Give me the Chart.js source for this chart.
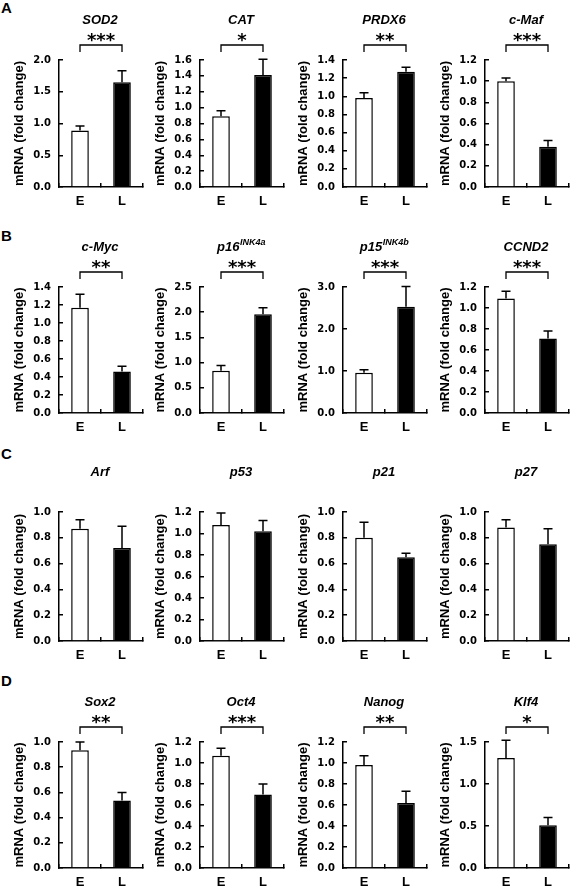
<!DOCTYPE html>
<html>
<head>
<meta charset="utf-8">
<script src="https://cdn.jsdelivr.net/npm/chart.js@4.4.1/dist/chart.umd.min.js"></script>
<style>
  body { margin: 0; background: #fff; }
  #figure { position: relative; width: 571px; height: 891px; overflow: hidden; background: #fff; }
  #figure canvas { position: absolute; }
  .letter { position: absolute; font: bold 15px "Liberation Sans", Arial, sans-serif; line-height: 15px; color: #000; }
</style>
</head>
<body>
<div id="figure"></div>
<script>
// gene panels, row by row (A, B, C, D)
const genes = ['SOD2', 'CAT', 'PRDX6', 'c-Maf',
               'c-Myc', 'p16', 'p15', 'CCND2',
               'Arf', 'p53', 'p21', 'p27',
               'Sox2', 'Oct4', 'Nanog', 'Klf4']
const geneSup = ['', '', '', '',
                 '', 'INK4a', 'INK4b', '',
                 '', '', '', '',
                 '', '', '', '']
const groups = ['E', 'L']

// mean fold change and upper error (SD) for early (E) and late (L)
const meanE = [0.89, 0.89, 0.98, 1.00,
               1.17, 0.84, 0.96, 1.09,
               0.87, 1.08, 0.80, 0.88,
               0.935, 1.07, 0.98, 1.31]
const errE  = [0.07, 0.07, 0.06, 0.03,
               0.15, 0.10, 0.07, 0.07,
               0.07, 0.11, 0.12, 0.06,
               0.065, 0.07, 0.09, 0.21]
const meanL = [1.65, 1.41, 1.27, 0.38,
               0.46, 1.96, 2.53, 0.71,
               0.72, 1.02, 0.65, 0.75,
               0.535, 0.70, 0.62, 0.51]
const errL  = [0.18, 0.20, 0.05, 0.06,
               0.06, 0.13, 0.48, 0.07,
               0.17, 0.10, 0.03, 0.12,
               0.065, 0.10, 0.11, 0.09]

// y axis ranges
const yMax  = [2.0, 1.6, 1.4, 1.2,
               1.4, 2.5, 3.0, 1.2,
               1.0, 1.2, 1.0, 1.0,
               1.0, 1.2, 1.2, 1.5]
const yStep = [0.5, 0.2, 0.2, 0.2,
               0.2, 0.5, 1.0, 0.2,
               0.2, 0.2, 0.2, 0.2,
               0.2, 0.2, 0.2, 0.5]

const stars = ['***', '*', '**', '***',
               '**', '***', '***', '***',
               '', '', '', '',
               '**', '***', '**', '*']
const rowLetters = ['A', 'B', 'C', 'D']

// layout of the grid
const axisLeft = [59, 200, 343, 485]
const plotTop = [60, 287, 512, 742]
const plotBottom = [187, 413, 641, 868]
const letterTop = [0, 228, 446, 673]
const axisWidth = 84

const sans = '"Liberation Sans", Arial, sans-serif'

const panelExtras = {
    id: 'panelExtras',
    afterDatasetsDraw(chart, args, opts) {
        const ctx = chart.ctx
        const yScale = chart.scales.y
        const area = chart.chartArea
        const bars = chart.getDatasetMeta(0).data
        ctx.save()
        ctx.strokeStyle = '#000'
        ctx.fillStyle = '#000'
        ctx.lineWidth = 1.5

        //Error bars, upper only.
        bars.forEach((bar, i) => {
            const top = yScale.getPixelForValue(opts.means[i] + opts.errs[i])
            ctx.beginPath()
            ctx.moveTo(bar.x, bar.y)
            ctx.lineTo(bar.x, top)
            ctx.moveTo(bar.x - 4.5, top)
            ctx.lineTo(bar.x + 4.5, top)
            ctx.stroke()
        })

        //Gene name, with optional superscript.
        const cx = (area.left + area.right) / 2 - 1
        const ty = area.top - 40
        ctx.textBaseline = 'middle'
        ctx.textAlign = 'left'
        ctx.font = 'italic bold 13px ' + sans
        const w1 = ctx.measureText(opts.name).width
        ctx.font = 'italic bold 9px ' + sans
        const w2 = opts.sup ? ctx.measureText(opts.sup).width : 0
        const x0 = cx - (w1 + w2) / 2
        ctx.font = 'italic bold 13px ' + sans
        ctx.fillText(opts.name, x0, ty)
        if (opts.sup) {
            ctx.font = 'italic bold 9px ' + sans
            ctx.fillText(opts.sup, x0 + w1 + 0.5, ty - 4)
        }

        //Significance bracket and stars.
        if (opts.stars) {
            const x1 = bars[0].x
            const x2 = bars[1].x
            const yb = area.top - 15
            ctx.lineWidth = 1.3
            ctx.beginPath()
            ctx.moveTo(x1, area.top - 8)
            ctx.lineTo(x1, yb)
            ctx.lineTo(x2, yb)
            ctx.lineTo(x2, area.top - 8)
            ctx.stroke()
            ctx.font = 'bold 18px "DejaVu Sans", sans-serif'
            ctx.textAlign = 'center'
            ctx.textBaseline = 'alphabetic'
            ctx.fillText(opts.stars, (x1 + x2) / 2, area.top - 14)
        }
        ctx.restore()
    }
}

const figure = document.getElementById('figure')

rowLetters.forEach((letter, r) => {
    const div = document.createElement('div')
    div.className = 'letter'
    div.style.left = '1px'
    div.style.top = letterTop[r] + 'px'
    div.textContent = letter
    figure.appendChild(div)
})

genes.forEach((gene, i) => {
    const row = Math.floor(i / 4)
    const col = i % 4
    const canvas = document.createElement('canvas')
    const w = 59 + axisWidth + 2
    const h = 60 + (plotBottom[row] - plotTop[row]) + 25
    canvas.width = w
    canvas.height = h
    canvas.style.left = (axisLeft[col] - 59) + 'px'
    canvas.style.top = (plotTop[row] - 60) + 'px'
    figure.appendChild(canvas)

    new Chart(canvas, {
        type: 'bar',
        data: {
            labels: groups,
            datasets: [{
                data: [meanE[i], meanL[i]],
                backgroundColor: ['#fff', '#000'],
                borderColor: '#000',
                borderWidth: 1.5,
                categoryPercentage: 1,
                barPercentage: 0.42
            }]
        },
        options: {
            responsive: false,
            animation: false,
            layout: { padding: { top: 60, right: 2, left: 0, bottom: 0 } },
            plugins: {
                legend: { display: false },
                tooltip: { enabled: false },
                title: { display: false },
                panelExtras: {
                    name: gene,
                    sup: geneSup[i],
                    stars: stars[i],
                    means: [meanE[i], meanL[i]],
                    errs: [errE[i], errL[i]]
                }
            },
            scales: {
                x: {
                    grid: { drawOnChartArea: false, tickLength: -4, color: '#000', lineWidth: 1.5 },
                    border: { color: '#000', width: 1.5 },
                    ticks: { padding: 11, color: '#000', font: { family: sans, size: 13, weight: 'bold' } },
                    afterFit: s => { s.height = 25 }
                },
                y: {
                    min: 0,
                    max: yMax[i],
                    grid: { drawOnChartArea: false, tickLength: -4, color: '#000', lineWidth: 1.5 },
                    border: { color: '#000', width: 1.5 },
                    ticks: {
                        stepSize: yStep[i],
                        padding: 12,
                        color: '#000',
                        font: { family: '"DejaVu Sans", sans-serif', size: 10, weight: 'bold' },
                        callback: v => v.toFixed(1)
                    },
                    title: {
                        display: true,
                        text: 'mRNA (fold change)',
                        color: '#000',
                        font: { family: sans, size: 13, weight: 'bold' },
                        padding: { top: 12, bottom: 0 }
                    },
                    afterFit: s => { s.width = 59 }
                }
            }
        },
        plugins: [panelExtras]
    })
})
</script>
</body>
</html>
